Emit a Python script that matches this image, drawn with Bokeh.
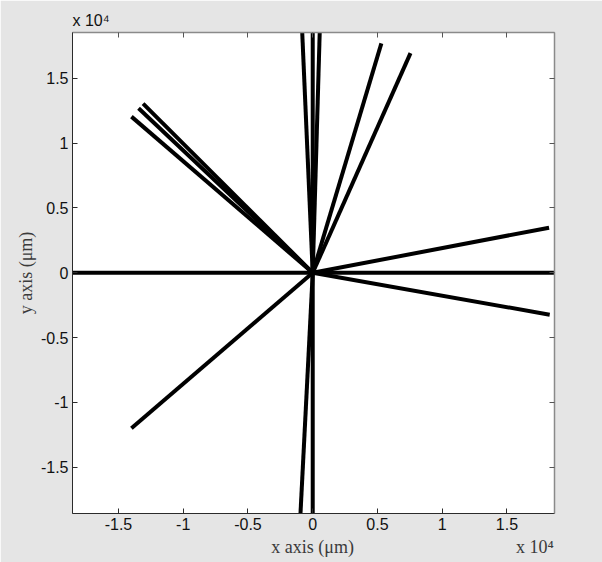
from bokeh.plotting import figure
from bokeh.models import (Range1d, LinearAxis, FixedTicker,
                          ColumnDataSource, CustomLabelingPolicy)
from bokeh.embed import file_html
from bokeh.resources import INLINE

# Line segments (micrometres): start and end points
seg_x0 = [-20000, 0, 0, 0, 0, 0, 0, 0, 0, 0, 0, 0, 0]
seg_y0 = [0, -20000, 0, 0, 0, 0, 0, 0, 0, 0, 0, 0, 0]
seg_x1 = [20000, 0, -831, 553, -967, -13100, -13450, -14000, -14000, 5300, 7550, 18250, 18300]
seg_y1 = [0, 20000, 19000, 19000, -19000, 13050, 12700, 12050, -12000, 17700, 16950, 3480, -3230]

tick_values = [-15000, -10000, -5000, 0, 5000, 10000, 15000]
tick_labels = ["-1.5", "-1", "-0.5", "0", "0.5", "1", "1.5"]
exponent_text = "x 10\u2074"
x_label_text = "x axis (μm)"
y_label_text = "y axis (μm)"

BG = "#e5e5e5"
AXC = "#2b2b2b"
BOXC = "#8a8a8a"

p = figure(width=602, height=562,
           x_range=Range1d(-18550, 18670), y_range=Range1d(-18570, 18540),
           output_backend="svg", toolbar_location=None,
           min_border_left=72, min_border_right=48,
           min_border_top=32, min_border_bottom=49)
p.background_fill_color = "white"
p.border_fill_color = BG
p.outline_line_color = BOXC
p.grid.visible = False

# exponent of the y axis, as the (left aligned) title above the box
p.title.text = exponent_text
p.title.align = "left"
p.title.text_font = "Liberation Sans"
p.title.text_font_size = "16px"
p.title.text_font_style = "normal"
p.title.text_color = "#111111"
p.title.standoff = 0
p.title.offset = 0

src = ColumnDataSource(dict(x0=seg_x0, y0=seg_y0, x1=seg_x1, y1=seg_y1))
p.segment("x0", "y0", "x1", "y1", source=src, line_color="black",
          line_width=4, line_cap="butt")

overrides = {v: l for v, l in zip(tick_values, tick_labels)}

for ax in (p.xaxis[0], p.yaxis[0]):
    ax.ticker = FixedTicker(ticks=tick_values)
    ax.major_label_overrides = overrides
    ax.major_tick_in = 5
    ax.major_tick_out = 0
    ax.minor_tick_line_color = None
    ax.axis_line_color = AXC
    ax.major_tick_line_color = AXC
    ax.major_label_text_font = "Liberation Sans"
    ax.major_label_text_font_size = "16px"
    ax.major_label_text_color = "#111111"
    ax.axis_label_text_font = "Liberation Serif"
    ax.axis_label_text_font_size = "18px"
    ax.axis_label_text_font_style = "normal"
    ax.axis_label_text_color = "#3a3a3a"

# x label centred on the box, with the x exponent at the lower right
NB = "\u00a0"
p.xaxis[0].axis_label = NB * 44 + x_label_text + NB * 36 + exponent_text
p.yaxis[0].axis_label = y_label_text
p.xaxis[0].major_label_standoff = 4
p.xaxis[0].axis_label_standoff = 4
p.yaxis[0].major_label_standoff = 4
p.yaxis[0].axis_label_standoff = 2

no_labels = CustomLabelingPolicy(code="return new Set()")
for loc in ("above", "right"):
    ax = LinearAxis(ticker=FixedTicker(ticks=tick_values))
    ax.major_tick_in = 5
    ax.major_tick_out = 0
    ax.minor_tick_line_color = None
    ax.axis_line_color = BOXC
    ax.axis_line_width = 1.5
    ax.major_tick_line_color = "#555555"
    ax.major_label_text_font_size = "1px"
    ax.major_label_policy = no_labels
    ax.major_label_standoff = 0
    p.add_layout(ax, loc)

open("out.html", "w").write(file_html(p, INLINE))
